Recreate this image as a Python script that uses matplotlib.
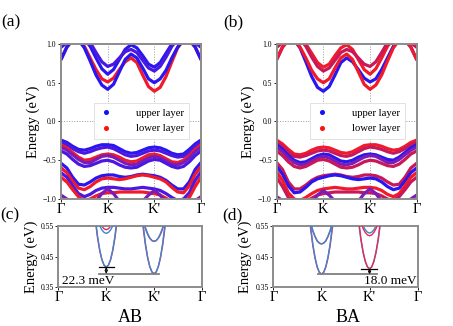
import matplotlib
matplotlib.use('Agg')
import matplotlib.pyplot as plt
import numpy as np

plt.rcParams['font.family'] = ['Liberation Serif', 'DejaVu Serif']
plt.rcParams['axes.unicode_minus'] = True

# ---------------- data ----------------
kpt_labels = ['Γ', 'K', "K'", 'Γ']
kpt_frac = [0.0, 1/3, 2/3, 1.0]
nk = 25  # k samples along Γ-K-K'-Γ (K at index 8, K' at 16)

# AB stacking, fat bands (energies in eV at the 25 k samples)
ab_cb1 = [0.80, 0.96, 1.05, 1.05, 0.97, 0.82, 0.67, 0.55, 0.51, 0.56, 0.67, 0.77, 0.82, 0.76, 0.60, 0.45, 0.39, 0.44, 0.58, 0.77, 0.95, 1.05, 1.05, 0.96, 0.80]
ab_cb2 = [0.80, 0.96, 1.05, 1.05, 0.95, 0.78, 0.60, 0.47, 0.415, 0.48, 0.64, 0.80, 0.87, 0.82, 0.69, 0.55, 0.50, 0.55, 0.66, 0.82, 0.96, 1.05, 1.05, 0.96, 0.80]
ab_cb3 = [0.96, 1.02, 1.07, 1.08, 1.06, 0.97, 0.82, 0.68, 0.61, 0.67, 0.80, 0.93, 0.99, 0.95, 0.85, 0.74, 0.70, 0.76, 0.88, 1.00, 1.06, 1.08, 1.06, 1.02, 0.96]
ab_cb4 = [0.96, 1.02, 1.07, 1.09, 1.08, 1.02, 0.89, 0.77, 0.71, 0.74, 0.82, 0.90, 0.93, 0.89, 0.79, 0.69, 0.65, 0.71, 0.83, 0.97, 1.06, 1.08, 1.06, 1.02, 0.96]
ab_vb1 = [-0.24, -0.27, -0.32, -0.36, -0.37, -0.35, -0.32, -0.30, -0.30, -0.31, -0.35, -0.39, -0.41, -0.40, -0.37, -0.34, -0.33, -0.34, -0.37, -0.41, -0.43, -0.42, -0.36, -0.29, -0.24]
ab_vb2 = [-0.27, -0.30, -0.35, -0.39, -0.41, -0.39, -0.36, -0.34, -0.33, -0.35, -0.39, -0.43, -0.45, -0.44, -0.41, -0.38, -0.37, -0.38, -0.41, -0.44, -0.46, -0.45, -0.40, -0.32, -0.27]
ab_vb3 = [-0.30, -0.34, -0.40, -0.46, -0.50, -0.49, -0.46, -0.43, -0.42, -0.43, -0.46, -0.50, -0.52, -0.51, -0.47, -0.43, -0.42, -0.44, -0.48, -0.52, -0.53, -0.50, -0.44, -0.36, -0.30]
ab_vb4 = [-0.33, -0.37, -0.43, -0.49, -0.53, -0.53, -0.49, -0.45, -0.44, -0.46, -0.50, -0.54, -0.56, -0.55, -0.51, -0.47, -0.45, -0.47, -0.51, -0.55, -0.56, -0.53, -0.47, -0.39, -0.33]
ab_vb5 = [-0.38, -0.42, -0.49, -0.55, -0.58, -0.57, -0.54, -0.51, -0.50, -0.52, -0.56, -0.59, -0.60, -0.59, -0.55, -0.51, -0.49, -0.50, -0.54, -0.58, -0.60, -0.58, -0.52, -0.44, -0.38]
ab_vb6 = [-0.54, -0.60, -0.72, -0.81, -0.82, -0.78, -0.73, -0.70, -0.69, -0.69, -0.71, -0.72, -0.71, -0.69, -0.68, -0.69, -0.70, -0.72, -0.76, -0.82, -0.87, -0.87, -0.78, -0.62, -0.53]
ab_vb7 = [-0.60, -0.66, -0.77, -0.86, -0.88, -0.84, -0.78, -0.74, -0.73, -0.74, -0.75, -0.74, -0.72, -0.70, -0.69, -0.70, -0.72, -0.74, -0.78, -0.85, -0.91, -0.92, -0.83, -0.68, -0.58]
ab_vb8 = [-0.66, -0.72, -0.83, -0.93, -0.97, -0.94, -0.89, -0.86, -0.85, -0.85, -0.86, -0.87, -0.87, -0.86, -0.85, -0.86, -0.87, -0.89, -0.93, -0.98, -1.02, -1.00, -0.92, -0.76, -0.65]
ab_vb9 = [-0.72, -0.78, -0.88, -0.97, -1.02, -1.00, -0.96, -0.93, -0.92, -0.92, -0.91, -0.91, -0.91, -0.91, -0.91, -0.92, -0.93, -0.95, -0.99, -1.03, -1.05, -1.04, -0.98, -0.84, -0.72]
ab_vb10 = [-0.95, -1.00, -1.10, -1.15, -1.15, -1.10, -1.03, -0.93, -0.87, -0.93, -1.03, -1.08, -1.10, -1.08, -1.03, -0.95, -0.89, -0.95, -1.05, -1.12, -1.15, -1.15, -1.10, -1.02, -0.97]

ab_bands = [ab_cb1, ab_cb2, ab_cb3, ab_cb4, ab_vb1, ab_vb2, ab_vb3, ab_vb4, ab_vb5,
            ab_vb6, ab_vb7, ab_vb8, ab_vb9, ab_vb10]
# dominant layer character: 'u' upper, 'l' lower, 'm' mixed, 'mu' mostly upper, 'ml' mostly lower
ab_char = ['l', 'u', 'u', 'mu', 'u', 'mu', 'l', 'm', 'mu', 'u', 'l', 'mu', 'l', 'm']
# BA stacking: mirror image along the path with the layers exchanged
ba_bands = [b[::-1] for b in ab_bands]
ba_char = ['u', 'l', 'l', 'ml', 'l', 'ml', 'u', 'm', 'ml', 'ml', 'u', 'l', 'ml', 'm']

# zoomed conduction-band valleys (offset from valley in path fraction)
valley_dk = [-0.08, -0.06, -0.045, -0.03, -0.015, 0.0, 0.015, 0.03, 0.045, 0.06, 0.08]
# AB (c)
c_blue_K1 = [0.592, 0.515, 0.471, 0.440, 0.422, 0.4155, 0.422, 0.440, 0.471, 0.515, 0.592]
c_red_K1 = [0.582, 0.509, 0.468, 0.439, 0.421, 0.4158, 0.421, 0.439, 0.468, 0.509, 0.582]
c_blue_K2 = [0.603, 0.569, 0.550, 0.537, 0.529, 0.526, 0.529, 0.537, 0.550, 0.569, 0.603]
c_red_K2 = [0.615, 0.581, 0.562, 0.549, 0.541, 0.538, 0.541, 0.549, 0.562, 0.581, 0.615]
c_blue_Kp1 = [0.570, 0.493, 0.449, 0.418, 0.400, 0.3935, 0.400, 0.418, 0.449, 0.493, 0.570]
c_red_Kp1 = [0.559, 0.487, 0.446, 0.417, 0.399, 0.3932, 0.399, 0.417, 0.446, 0.487, 0.559]
c_blue_Kp2 = [0.581, 0.545, 0.526, 0.511, 0.503, 0.500, 0.503, 0.511, 0.526, 0.545, 0.581]
c_red_Kp2 = [0.574, 0.541, 0.523, 0.510, 0.502, 0.4995, 0.502, 0.510, 0.523, 0.541, 0.574]
# BA (d)
d_blue_K1 = [0.568, 0.491, 0.448, 0.417, 0.398, 0.3920, 0.398, 0.417, 0.448, 0.491, 0.568]
d_red_K1 = [0.558, 0.486, 0.445, 0.415, 0.398, 0.3922, 0.398, 0.415, 0.445, 0.486, 0.558]
d_blue_K2 = [0.572, 0.536, 0.517, 0.502, 0.494, 0.491, 0.494, 0.502, 0.517, 0.536, 0.572]
d_red_K2 = [0.566, 0.533, 0.515, 0.501, 0.494, 0.4915, 0.494, 0.501, 0.515, 0.533, 0.566]
d_red_Kp1 = [0.586, 0.509, 0.466, 0.435, 0.416, 0.4100, 0.416, 0.435, 0.466, 0.509, 0.586]
d_blue_Kp1 = [0.576, 0.504, 0.463, 0.434, 0.416, 0.4102, 0.416, 0.434, 0.463, 0.504, 0.576]
d_blue_Kp2 = [0.604, 0.570, 0.551, 0.538, 0.530, 0.527, 0.530, 0.538, 0.551, 0.570, 0.604]
d_red_Kp2 = [0.595, 0.561, 0.542, 0.529, 0.521, 0.518, 0.521, 0.529, 0.542, 0.561, 0.595]

gap_ab_meV = 22.3
gap_ba_meV = 18.0

# ---------------- style ----------------
BLUE, RED = '#1010ff', '#ff1010'
char_color = {'u': '#2a16f0', 'l': '#f01a2a', 'm': '#7a1cb8', 'mu': '#4a18e0', 'ml': '#c8185a'}
ZBLUE, ZRED = '#3d87cf', '#e32b5a'
SPINE = '#8c8c8c'

fig = plt.figure(figsize=(4.53, 3.26), dpi=100)
ax_a = fig.add_axes([0.1347, 0.3896, 0.309, 0.4755])
ax_b = fig.add_axes([0.6108, 0.3896, 0.309, 0.4755])
ax_c = fig.add_axes([0.1290, 0.1196, 0.3166, 0.187])
ax_d = fig.add_axes([0.6035, 0.1196, 0.3185, 0.187])

kx = np.linspace(0, 1, nk)


def style_axes(ax, ylim, yticks, ylabels):
    ax.set_xlim(0, 1)
    ax.set_ylim(*ylim)
    ax.set_xticks(kpt_frac)
    ax.set_xticklabels(kpt_labels, fontsize=10.5)
    ax.set_yticks(yticks)
    ax.set_yticklabels(ylabels, fontsize=5.5)
    ax.tick_params(axis='both', length=2, width=0.6, pad=1.5, colors='black')
    ax.tick_params(axis='x', pad=1)
    for s in ax.spines.values():
        s.set_color(SPINE)
        s.set_linewidth(1.4)
    ax.set_ylabel('Energy (eV)', fontsize=10.5, labelpad=2)


def draw_fat(ax, bands, chars):
    for band, ch in zip(bands, chars):
        ax.plot(kx, band, color=char_color[ch], lw=2.3, solid_capstyle='round', zorder=2)
    for xv in kpt_frac[1:3]:
        ax.axvline(xv, color='#9a9a9a', ls=':', lw=0.7, zorder=1)
    ax.axhline(0.0, color='#9a9a9a', ls=':', lw=0.7, zorder=1)
    style_axes(ax, (-1.0, 1.0), [1.0, 0.5, 0.0, -0.5, -1.0],
               ['1.0', '0.5', '0.0', '\u22120.5', '\u22121.0'])
    h1, = ax.plot([], [], 'o', color=BLUE, ms=2.6, label='upper layer')
    h2, = ax.plot([], [], 'o', color=RED, ms=2.6, label='lower layer')
    leg = ax.legend(handles=[h1, h2], loc='center right', bbox_to_anchor=(0.955, 0.505),
                    fontsize=7.7, handlelength=1.2, handletextpad=2.2, borderpad=0.5,
                    labelspacing=0.6, framealpha=1.0, fancybox=False)
    leg.get_frame().set_edgecolor('#dddddd')
    leg.get_frame().set_linewidth(0.6)


draw_fat(ax_a, ab_bands, ab_char)
draw_fat(ax_b, ba_bands, ba_char)

dk = np.array(valley_dk)
xK, xKp = kpt_frac[1], kpt_frac[2]

# (c) AB: blue drawn over red
for b in (c_red_K1, c_red_K2):
    ax_c.plot(xK + dk, b, color=ZRED, lw=1.0, zorder=2)
for b in (c_blue_K1, c_blue_K2):
    ax_c.plot(xK + dk, b, color=ZBLUE, lw=1.0, zorder=3)
for b in (c_red_Kp1, c_red_Kp2):
    ax_c.plot(xKp + dk, b, color=ZRED, lw=1.0, zorder=2)
for b in (c_blue_Kp1, c_blue_Kp2):
    ax_c.plot(xKp + dk, b, color=ZBLUE, lw=1.0, zorder=3)
style_axes(ax_c, (0.35, 0.55), [0.55, 0.45, 0.35], ['0.55', '0.45', '0.35'])
eK = min(c_blue_K1)
eKp = min(c_red_Kp1)
ax_c.plot([0.28, 0.70], [eKp, eKp], color='#7f7f7f', lw=1.3, zorder=4)
ax_c.plot([0.28, 0.385], [eK, eK], color='black', lw=0.9, zorder=4)
ax_c.annotate('', xy=(xK, eK), xytext=(xK, eKp),
              arrowprops=dict(arrowstyle='<->', lw=0.7, color='black',
                              mutation_scale=4, shrinkA=0, shrinkB=0), zorder=5)
ax_c.text(0.025, 0.045, f'{gap_ab_meV:.1f} meV', transform=ax_c.transAxes,
          fontsize=9.5, ha='left', va='baseline')

# (d) BA: blue over red at K, red over blue at K'
for b in (d_red_K1, d_red_K2):
    ax_d.plot(xK + dk, b, color=ZRED, lw=1.0, zorder=2)
for b in (d_blue_K1, d_blue_K2):
    ax_d.plot(xK + dk, b, color=ZBLUE, lw=1.0, zorder=3)
for b in (d_blue_Kp1, d_blue_Kp2):
    ax_d.plot(xKp + dk, b, color=ZBLUE, lw=1.0, zorder=2)
for b in (d_red_Kp1, d_red_Kp2):
    ax_d.plot(xKp + dk, b, color=ZRED, lw=1.0, zorder=3)
style_axes(ax_d, (0.35, 0.55), [0.55, 0.45, 0.35], ['0.55', '0.45', '0.35'])
eK_d = min(d_blue_K1)
eKp_d = min(d_red_Kp1)
ax_d.plot([0.31, 0.72], [eK_d, eK_d], color='#7f7f7f', lw=1.3, zorder=4)
ax_d.plot([0.61, 0.72], [eKp_d, eKp_d], color='black', lw=0.9, zorder=4)
ax_d.annotate('', xy=(xKp, eKp_d), xytext=(xKp, eK_d),
              arrowprops=dict(arrowstyle='<->', lw=0.7, color='black',
                              mutation_scale=4, shrinkA=0, shrinkB=0), zorder=5)
ax_d.text(0.995, 0.045, f'{gap_ba_meV:.1f} meV', transform=ax_d.transAxes,
          fontsize=9.5, ha='right', va='baseline')

# panel labels
fig.text(0.024, 0.93, '(a)', fontsize=12.5, ha='center', va='center')
fig.text(0.515, 0.93, '(b)', fontsize=12.5, ha='center', va='center')
fig.text(0.022, 0.34, '(c)', fontsize=12.5, ha='center', va='center')
fig.text(0.513, 0.34, '(d)', fontsize=12.5, ha='center', va='center')
fig.text(0.287, 0.025, 'AB', fontsize=13, ha='center', va='center')
fig.text(0.768, 0.025, 'BA', fontsize=13, ha='center', va='center')

fig.savefig('out.png', dpi=100)
